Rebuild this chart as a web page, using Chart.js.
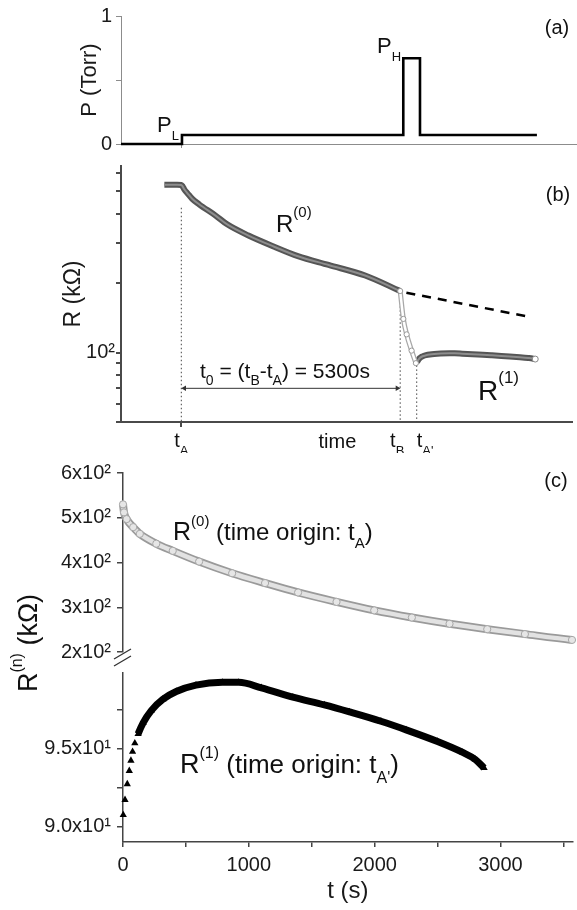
<!DOCTYPE html>
<html>
<head>
<meta charset="utf-8">
<script src="https://cdn.jsdelivr.net/npm/chart.js@4.4.1/dist/chart.umd.min.js"></script>
<style>
  html, body { margin: 0; padding: 0; background: #fff; }
  #fig { position: relative; width: 577px; height: 910px; overflow: hidden; }
  canvas { position: absolute; left: 0; }
</style>
</head>
<body>
<div id="fig">
  <canvas id="pa" width="577" height="160" style="top:0px"></canvas>
  <canvas id="pb" width="577" height="300" style="top:153px"></canvas>
  <canvas id="pcTop" width="577" height="255" style="top:455px"></canvas>
  <canvas id="pcBot" width="577" height="255" style="top:655px"></canvas>
</div>
<script>
// three-panel figure: pressure program, R(t) on log axis, R(n) vs t with broken axis
const FONT = "'Liberation Sans', Arial, Helvetica, sans-serif";
Chart.defaults.font.family = FONT;
Chart.defaults.font.size = 20;
Chart.defaults.color = '#1a1a1a';

// time base of panels (a),(b): seconds, origin at t_A
const tA = 0, tB = 5300, tAp = 5700;

// (a) pressure program (Torr)
const pTimes  = [-1460, 0, 0, 5300, 5300, 5700, 5700, 8500];
const pValues = [0, 0, 0.07, 0.07, 0.67, 0.67, 0.07, 0.07];
const pTicks  = [0, 0.5, 1];

// (b) R(0) before and after t_A (kOhm)
const r0bTimes = [-410, -300, -200, -100, 0, 24, 72, 151, 263, 431, 830, 1101, 1627, 2249, 2824, 3566, 4451, 5300];
const r0bR     = [535, 535, 535, 535, 534, 529, 511, 491, 465, 440, 393, 361, 322, 288, 262, 240, 216, 185];
// (b) drop during the P_H pulse
const dropTimes = [5300, 5377, 5456, 5576, 5680];
const dropR     = [185, 140, 120, 102, 90];
// (b) dashed extrapolation of R(0)
const extTimes = [5450, 8420];
const extR     = [182, 143];
// (b) dotted guides and the t0 arrow
const guideTimes = [tA, tB, tAp];
const guideTopR  = [425, 172, 88];
const arrowTimes = [75, 5230];
const arrowR     = 70;
const rTicks     = [50, 60, 70, 80, 90, 100, 200, 300, 400, 500, 600];

// (c) R(0) with time origin t_A
const r0Times = [0, 8, 29, 81, 134, 265, 396, 606, 869, 1131, 1394, 1700, 2000, 2300, 2600, 2900, 3200, 3575, 3900];
const r0R     = [530, 512, 497, 479, 464, 442, 426, 402, 376, 354, 333, 312, 293, 277, 263, 251, 240, 227, 219];
// (c) R(1) with time origin t_A'
const r1Times = [2, 16, 34, 50, 63, 76, 94, 120, 160, 226, 317, 423, 580, 790, 920, 1100, 1350, 1600, 1800, 2050, 2250, 2500, 2700, 2800, 2870];
const r1R     = [90.74, 91.71, 92.72, 93.57, 94.23, 94.8, 95.34, 95.94, 96.65, 97.45, 98.16, 98.66, 99.07, 99.25, 99.25, 98.9, 98.3, 97.8, 97.35, 96.75, 96.2, 95.45, 94.75, 94.3, 93.75];
const cUpperTicks = [200, 250, 300, 350, 400, 450, 500, 550, 600];
const cLowerTicks = [90, 92.5, 95, 97.5];
const cTimeTicks  = [0, 500, 1000, 1500, 2000, 2500, 3000, 3500];

const pts = (xs, ys) => xs.map((x, i) => ({ x, y: ys[i] }));
const setTicks = vals => s => { s.ticks = vals.map(v => ({ value: v })); };

// text with sub/superscript pieces: [text, size, raise]
function rich(ctx, x, y, parts, align) {
  let w = 0;
  parts.forEach(p => { ctx.font = p[1] + 'px ' + FONT; w += ctx.measureText(p[0]).width; });
  let cx = align === 'center' ? x - w / 2 : (align === 'right' ? x - w : x);
  ctx.textAlign = 'left';
  ctx.textBaseline = 'alphabetic';
  parts.forEach(p => {
    ctx.font = p[1] + 'px ' + FONT;
    ctx.fillText(p[0], cx, y - p[2]);
    cx += ctx.measureText(p[0]).width;
  });
}

function axisLook(color, width, tickLen) {
  return {
    border: { display: true, color: color, width: width },
    grid: { display: true, drawOnChartArea: false, drawTicks: true, tickLength: tickLen, color: color, lineWidth: width }
  };
}

function tube(data, outer, inner, wOut, wIn, extra) {
  const base = { data: data, pointRadius: 0, cubicInterpolationMode: 'monotone', fill: false };
  return [
    Object.assign({}, base, { borderColor: outer, borderWidth: wOut, order: 3 }, extra || {}),
    Object.assign({}, base, { borderColor: inner, borderWidth: wIn, order: 2 }, extra || {})
  ];
}

const common = {
  responsive: false,
  animation: false,
  events: [],
  plugins: { legend: { display: false }, tooltip: { enabled: false } }
};

// ---------- (a) ----------
const labelsA = {
  id: 'labelsA',
  afterDraw(chart) {
    const ctx = chart.ctx;
    ctx.save();
    ctx.fillStyle = '#111';
    rich(ctx, 157, 132, [['P', 22, 0], ['L', 13, -8]]);
    rich(ctx, 377, 53, [['P', 22, 0], ['H', 13, -8]]);
    rich(ctx, 557, 34, [['(a)', 20, 0]], 'center');
    ctx.restore();
  }
};

new Chart(document.getElementById('pa'), {
  type: 'line',
  data: {
    datasets: [{
      data: pts(pTimes, pValues),
      borderColor: '#000', borderWidth: 2.6, pointRadius: 0, tension: 0,
      borderJoinStyle: 'miter', clip: 6
    }]
  },
  options: Object.assign({}, common, {
    layout: { padding: { top: 16, left: 0, right: 0, bottom: 0 } },
    scales: {
      x: Object.assign({
        type: 'linear', min: -1460, max: 9460,
        afterBuildTicks: setTicks([tA]),
        ticks: { callback: () => '' },
        afterFit: s => { s.height = 7; }
      }, axisLook('#8c8c8c', 1, 4)),
      y: Object.assign({
        type: 'linear', min: 0, max: 1,
        afterBuildTicks: setTicks(pTicks),
        ticks: { callback: v => (v === 0.5 ? '' : String(v)), padding: 4, font: { size: 20 } },
        title: { display: true, text: 'P (Torr)', font: { size: 22 }, padding: { top: 77, bottom: 0 } },
        afterFit: s => { s.width = 121; }
      }, axisLook('#8c8c8c', 1, 5))
    }
  }),
  plugins: [labelsA]
});

// ---------- (b) ----------
const labelsB = {
  id: 'labelsB',
  afterDraw(chart) {
    const ctx = chart.ctx, x = chart.scales.x;
    ctx.save();
    ctx.fillStyle = '#111';
    rich(ctx, 558, 48, [['(b)', 20, 0]], 'center');
    rich(ctx, 276, 79, [['R', 24, 0], ['(0)', 15, 15]]);
    rich(ctx, 478, 247, [['R', 28, 0], ['(1)', 17, 17]]);
    rich(ctx, 200, 225, [['t', 21, 0], ['0', 14, -7], [' = (t', 21, 0], ['B', 14, -7],
                         ['-t', 21, 0], ['A', 14, -7], [') = 5300s', 21, 0]]);
    const ly = 294;
    rich(ctx, x.getPixelForValue(tA), ly, [['t', 20, 0], ['A', 13, -8]], 'center');
    rich(ctx, x.getPixelForValue(3780), ly + 1, [['time', 20, 0]], 'center');
    rich(ctx, x.getPixelForValue(tB) - 3, ly, [['t', 20, 0], ['B', 13, -8]], 'center');
    rich(ctx, x.getPixelForValue(tAp), ly, [['t', 20, 0], ["A'", 13, -8]]);
    ctx.restore();
  }
};

const guideSets = guideTimes.map((t, i) => ({
  data: [{ x: t, y: guideTopR[i] }, { x: t, y: 50 }],
  borderColor: '#444', borderWidth: 1, borderDash: [1.5, 2.5], pointRadius: 0, order: 6
}));

new Chart(document.getElementById('pb'), {
  type: 'line',
  data: {
    datasets: [
      ...guideSets,
      {
        data: arrowTimes.map(t => ({ x: t, y: arrowR })),
        borderColor: '#333', borderWidth: 1, pointStyle: 'triangle', pointRadius: 3.2,
        pointRotation: [-90, 90], pointBackgroundColor: '#333', pointBorderWidth: 0, order: 5
      },
      {
        data: pts(extTimes, extR),
        borderColor: '#000', borderWidth: 2.5, borderDash: [9, 7], pointRadius: 0, order: 4
      },
      ...tube(pts(r0bTimes, r0bR), '#555', '#8e8e8e', 6, 2),
      ...tube(pts(dropTimes, dropR), '#a8a8a8', '#ffffff', 5, 2.5),
      {
        data: pts(dropTimes, dropR), showLine: false, pointRadius: 2.6,
        pointBorderColor: '#999', pointBackgroundColor: '#fff', pointBorderWidth: 1, order: 1
      },
      ...tube(pts(r1Times.map(t => t + tAp), r1R), '#555', '#8e8e8e', 6, 2),
      {
        data: [{ x: r1Times[r1Times.length - 1] + tAp, y: r1R[r1R.length - 1] }], showLine: false,
        pointRadius: 3, pointBorderColor: '#888', pointBackgroundColor: '#fff', pointBorderWidth: 1, order: 1
      }
    ]
  },
  options: Object.assign({}, common, {
    layout: { padding: { top: 0, left: 0, right: 0, bottom: 0 } },
    scales: {
      x: Object.assign({
        type: 'linear', min: -1460, max: 9460,
        afterBuildTicks: setTicks([tA]),
        ticks: { callback: () => '' },
        afterFit: s => { s.height = 31; }
      }, axisLook('#4a4a4a', 2, 5)),
      y: Object.assign({
        type: 'logarithmic', min: 50, max: 645,
        afterBuildTicks: setTicks(rTicks),
        ticks: { autoSkip: false, callback: v => (v === 100 ? '10\u00B2' : ''), padding: 1, font: { size: 20 } },
        title: { display: true, text: 'R (k\u03A9)', font: { size: 23 }, padding: { top: 60, bottom: 0 } },
        afterFit: s => { s.width = 121; }
      }, axisLook('#4a4a4a', 2, 5))
    }
  }),
  plugins: [labelsB]
});

// ---------- (c) upper: R(0) ----------
const labelsCTop = {
  id: 'labelsCTop',
  afterDraw(chart) {
    const ctx = chart.ctx;
    ctx.save();
    ctx.fillStyle = '#111';
    rich(ctx, 173, 85, [['R', 25, 0], ['(0)', 15, 14], [' (time origin: t', 24, 0], ['A', 15, -8], [')', 24, 0]]);
    rich(ctx, 556, 32, [['(c)', 20, 0]], 'center');
    ctx.translate(37, 188);
    ctx.rotate(-Math.PI / 2);
    rich(ctx, 0, 0, [['R', 27, 0], ['(n)', 16, 15], [' (k\u03A9)', 27, 0]], 'center');
    ctx.restore();
    // axis break marks
    ctx.save();
    ctx.strokeStyle = '#333';
    ctx.lineWidth = 1.3;
    ctx.beginPath();
    ctx.moveTo(114, 204); ctx.lineTo(131, 194);
    ctx.moveTo(114, 211); ctx.lineTo(131, 201);
    ctx.stroke();
    ctx.restore();
  }
};

new Chart(document.getElementById('pcTop'), {
  type: 'line',
  data: {
    datasets: [
      ...tube(pts(r0Times, r0R), '#9a9a9a', '#e2e2e2', 8, 4.5, { clip: 10 }),
      {
        data: pts(r0Times, r0R), showLine: false, pointRadius: 3.6, clip: 10,
        pointBorderColor: '#a6a6a6', pointBackgroundColor: '#e6e6e6', pointBorderWidth: 1, order: 1
      }
    ]
  },
  options: Object.assign({}, common, {
    layout: { padding: { top: 15, left: 0, right: 0, bottom: 58 } },
    scales: {
      x: { type: 'linear', min: 0, max: 3575, display: false },
      y: Object.assign({
        type: 'linear', min: 200, max: 600,
        afterBuildTicks: setTicks(cUpperTicks),
        ticks: { callback: v => (v % 100 === 0 ? (v / 100) + 'x10\u00B2' : ''), padding: 6, font: { size: 20 } },
        afterFit: s => { s.width = 123; }
      }, axisLook('#444', 1.5, 6))
    }
  }),
  plugins: [labelsCTop]
});

// ---------- (c) lower: R(1) ----------
const labelsCBot = {
  id: 'labelsCBot',
  afterDraw(chart) {
    const ctx = chart.ctx;
    ctx.save();
    ctx.fillStyle = '#111';
    rich(ctx, 180, 118, [['R', 27, 0], ['(1)', 16, 15], [' (time origin: t', 26, 0], ["A'", 16, -10], [')', 26, 0]]);
    ctx.restore();
  }
};

new Chart(document.getElementById('pcBot'), {
  type: 'line',
  data: {
    datasets: [
      {
        data: pts(r1Times, r1R), borderColor: '#000', borderWidth: 7, pointRadius: 0,
        cubicInterpolationMode: 'monotone', clip: 10, order: 2,
        segment: { borderColor: c => (c.p0.parsed.x < 120 ? 'rgba(0,0,0,0)' : undefined) }
      },
      {
        data: pts(r1Times, r1R), showLine: false, pointStyle: 'triangle', pointRadius: 4.2,
        pointBackgroundColor: '#000', pointBorderColor: '#000', pointBorderWidth: 0, clip: 10, order: 1
      }
    ]
  },
  options: Object.assign({}, common, {
    layout: { padding: { top: 7, left: 0, right: 0, bottom: 0 } },
    scales: {
      x: Object.assign({
        type: 'linear', min: 0, max: 3575,
        afterBuildTicks: setTicks(cTimeTicks),
        ticks: { callback: v => (v % 1000 === 0 ? String(v) : ''), padding: 6, font: { size: 20 } },
        title: { display: true, text: 't (s)', font: { size: 24 }, padding: { top: 0, bottom: 4 } },
        afterFit: s => { s.height = 68; }
      }, axisLook('#444', 1.5, 5)),
      y: Object.assign({
        type: 'linear', min: 89, max: 99.85,
        afterBuildTicks: setTicks(cLowerTicks),
        ticks: { callback: v => (v === 90 ? '9.0x10\u00B9' : (v === 95 ? '9.5x10\u00B9' : '')), padding: 6, font: { size: 20 } },
        afterFit: s => { s.width = 123; }
      }, axisLook('#444', 1.5, 6))
    }
  }),
  plugins: [labelsCBot]
});
</script>
</body>
</html>
